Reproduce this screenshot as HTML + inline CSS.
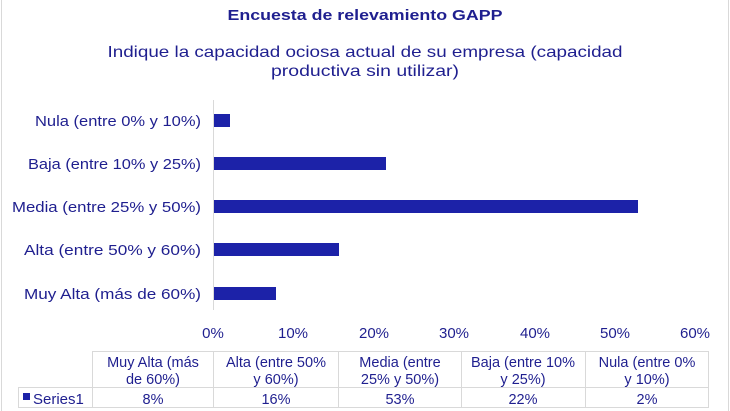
<!DOCTYPE html>
<html><head><meta charset="utf-8"><style>
html,body{margin:0;padding:0;background:#fff;}
svg{display:block;font-family:"Liberation Sans",sans-serif;}
</style></head><body>
<svg width="730" height="411" viewBox="0 0 730 411" xmlns="http://www.w3.org/2000/svg">
<rect x="0" y="0" width="730" height="411" fill="#fff"/>
<line x1="1.5" y1="0" x2="1.5" y2="411" stroke="#d9d9d9"/>
<line x1="728.5" y1="0" x2="728.5" y2="411" stroke="#d9d9d9"/>
<g fill="#1f1f8f">
<text x="365" y="20" text-anchor="middle" font-size="15" font-weight="bold" textLength="275" lengthAdjust="spacingAndGlyphs">Encuesta de relevamiento GAPP</text>
<text x="365" y="57" text-anchor="middle" font-size="16" textLength="515" lengthAdjust="spacingAndGlyphs">Indique la capacidad ociosa actual de su empresa (capacidad</text>
<text x="365" y="76" text-anchor="middle" font-size="16" textLength="188" lengthAdjust="spacingAndGlyphs">productiva sin utilizar)</text>
</g>
<line x1="213.5" y1="100" x2="213.5" y2="310" stroke="#d9d9d9"/>
<g fill="#1c22a8">
<rect x="214" y="114" width="16" height="13"/>
<rect x="214" y="157" width="172" height="13"/>
<rect x="214" y="200" width="424" height="13"/>
<rect x="214" y="243" width="125" height="13"/>
<rect x="214" y="287" width="62" height="13"/>
</g>
<g fill="#1f1f8f" font-size="15" text-anchor="end">
<text x="201" y="126" textLength="166" lengthAdjust="spacingAndGlyphs">Nula (entre 0% y 10%)</text>
<text x="201" y="169" textLength="173" lengthAdjust="spacingAndGlyphs">Baja (entre 10% y 25%)</text>
<text x="201" y="212" textLength="189" lengthAdjust="spacingAndGlyphs">Media (entre 25% y 50%)</text>
<text x="201" y="255" textLength="177" lengthAdjust="spacingAndGlyphs">Alta (entre 50% y 60%)</text>
<text x="201" y="299" textLength="177" lengthAdjust="spacingAndGlyphs">Muy Alta (más de 60%)</text>
</g>
<g fill="#1f1f8f" font-size="15" text-anchor="middle">
<text x="213" y="338">0%</text>
<text x="293" y="338">10%</text>
<text x="374" y="338">20%</text>
<text x="454" y="338">30%</text>
<text x="535" y="338">40%</text>
<text x="615" y="338">50%</text>
<text x="695" y="338">60%</text>
</g>
<g stroke="#d9d9d9" fill="none">
<line x1="92.5" y1="351" x2="92.5" y2="408"/>
<line x1="213.5" y1="351" x2="213.5" y2="408"/>
<line x1="338.5" y1="351" x2="338.5" y2="408"/>
<line x1="461.5" y1="351" x2="461.5" y2="408"/>
<line x1="585.5" y1="351" x2="585.5" y2="408"/>
<line x1="708.5" y1="351" x2="708.5" y2="408"/>
<line x1="92" y1="351.5" x2="709" y2="351.5"/>
<line x1="18" y1="387.5" x2="709" y2="387.5"/>
<line x1="18" y1="407.5" x2="709" y2="407.5"/>
<line x1="18.5" y1="387" x2="18.5" y2="408"/>
</g>
<g fill="#1f1f8f" font-size="14.5" text-anchor="middle">
<text x="153" y="367">Muy Alta (más</text><text x="153" y="384">de 60%)</text>
<text x="276" y="367">Alta (entre 50%</text><text x="276" y="384">y 60%)</text>
<text x="400" y="367">Media (entre</text><text x="400" y="384">25% y 50%)</text>
<text x="523" y="367">Baja (entre 10%</text><text x="523" y="384">y 25%)</text>
<text x="647" y="367">Nula (entre 0%</text><text x="647" y="384">y 10%)</text>
<text x="153" y="404">8%</text>
<text x="276" y="404">16%</text>
<text x="400" y="404">53%</text>
<text x="523" y="404">22%</text>
<text x="647" y="404">2%</text>
</g>
<rect x="23" y="393" width="7" height="7" fill="#1c22a8"/>
<text x="33" y="404" font-size="15" fill="#1f1f8f">Series1</text>
</svg>
</body></html>
